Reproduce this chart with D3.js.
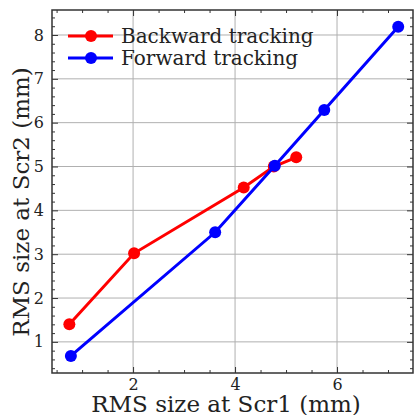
<!DOCTYPE html>
<html>
<head>
<meta charset="utf-8">
<script src="https://cdn.jsdelivr.net/npm/d3@7"></script>
<style>
body { margin: 0; background: #fff; }
text { font-family: "DejaVu Serif", serif; fill: #222; }
</style>
</head>
<body>
<script>
// data
const backX = [0.75, 2.02, 4.17, 4.76, 5.2]
const backY = [1.4, 3.02, 4.52, 5.0, 5.21]
const fwdX = [0.78, 3.61, 4.78, 5.75, 7.2]
const fwdY = [0.68, 3.5, 5.02, 6.29, 8.19]
const xTicks = [2, 4, 6]
const yTicks = [1, 2, 3, 4, 5, 6, 7, 8]
const seriesNames = ['Backward tracking', 'Forward tracking']
const seriesColors = ['#ff0000', '#0000ff']

const width = 416, height = 415
const margin = {top: 10, right: 3, bottom: 42, left: 52}
const svg = d3.select('body').append('svg')
  .attr('width', width)
  .attr('height', height)

const x = d3.scaleLinear().domain([0.41, 7.49]).range([margin.left, width - margin.right])
const y = d3.scaleLinear().domain([0.29, 8.57]).range([height - margin.bottom, margin.top])

const x0 = margin.left, x1 = width - margin.right
const y0 = height - margin.bottom, y1 = margin.top

// grid
svg.append('g').selectAll('line.gx').data(xTicks).join('line')
  .attr('x1', d => x(d)).attr('x2', d => x(d)).attr('y1', y0).attr('y2', y1)
  .attr('stroke', '#b0b0b0').attr('stroke-width', 1)
svg.append('g').selectAll('line.gy').data(yTicks).join('line')
  .attr('y1', d => y(d)).attr('y2', d => y(d)).attr('x1', x0).attr('x2', x1)
  .attr('stroke', '#b0b0b0').attr('stroke-width', 1)

// axes with inward ticks
const xMinor = d3.range(0.5, 7.5, 0.5).filter(d => d % 2 !== 0)
const yMinor = d3.range(0.4, 8.6, 0.2).map(d => +d.toFixed(1)).filter(d => !Number.isInteger(d))

function tickAxis(axisGen, tr) {
  const g = svg.append('g').attr('transform', tr).call(axisGen)
  g.select('.domain').remove()
  g.selectAll('line').attr('stroke', '#333').attr('stroke-width', 1)
  return g
}
const bottom = tickAxis(d3.axisBottom(x).tickValues(xTicks).tickSize(-6).tickPadding(6), `translate(0,${y0})`)
bottom.selectAll('text').attr('font-size', 16).attr('fill', '#222')
tickAxis(d3.axisBottom(x).tickValues(xMinor).tickSize(-3).tickFormat(''), `translate(0,${y0})`)
tickAxis(d3.axisTop(x).tickValues(xTicks).tickSize(-6).tickFormat(''), `translate(0,${y1})`)
tickAxis(d3.axisTop(x).tickValues(xMinor).tickSize(-3).tickFormat(''), `translate(0,${y1})`)
const left = tickAxis(d3.axisLeft(y).tickValues(yTicks).tickSize(-6).tickPadding(8), `translate(${x0},0)`)
left.selectAll('text').attr('font-size', 16).attr('fill', '#222')
tickAxis(d3.axisLeft(y).tickValues(yMinor).tickSize(-3).tickFormat(''), `translate(${x0},0)`)
tickAxis(d3.axisRight(y).tickValues(yTicks).tickSize(-6).tickFormat(''), `translate(${x1},0)`)
tickAxis(d3.axisRight(y).tickValues(yMinor).tickSize(-3).tickFormat(''), `translate(${x1},0)`)

// frame
svg.append('rect').attr('x', x0).attr('y', y1).attr('width', x1 - x0).attr('height', y0 - y1)
  .attr('fill', 'none').attr('stroke', '#333').attr('stroke-width', 1.5)

// series
const line = d3.line().x(d => x(d[0])).y(d => y(d[1]))
const series = [d3.zip(backX, backY), d3.zip(fwdX, fwdY)]
series.forEach((pts, i) => {
  svg.append('path').attr('d', line(pts)).attr('fill', 'none')
    .attr('stroke', seriesColors[i]).attr('stroke-width', 3)
  svg.append('g').selectAll('circle').data(pts).join('circle')
    .attr('cx', d => x(d[0])).attr('cy', d => y(d[1])).attr('r', 6)
    .attr('fill', seriesColors[i])
})

// legend
seriesNames.forEach((name, i) => {
  const ly = 36 + i * 22
  svg.append('line').attr('x1', 68).attr('x2', 113).attr('y1', ly).attr('y2', ly)
    .attr('stroke', seriesColors[i]).attr('stroke-width', 3)
  svg.append('circle').attr('cx', 91).attr('cy', ly).attr('r', 6).attr('fill', seriesColors[i])
  svg.append('text').attr('x', 121).attr('y', ly).attr('dy', '0.35em')
    .attr('font-size', 20).text(name)
})

// axis labels
svg.append('text').attr('x', 226).attr('y', 412).attr('text-anchor', 'middle')
  .attr('font-size', 23).text('RMS size at Scr1 (mm)')
svg.append('text').attr('transform', `translate(29,202) rotate(-90)`)
  .attr('text-anchor', 'middle').attr('font-size', 23).text('RMS size at Scr2 (mm)')
</script>
</body>
</html>
